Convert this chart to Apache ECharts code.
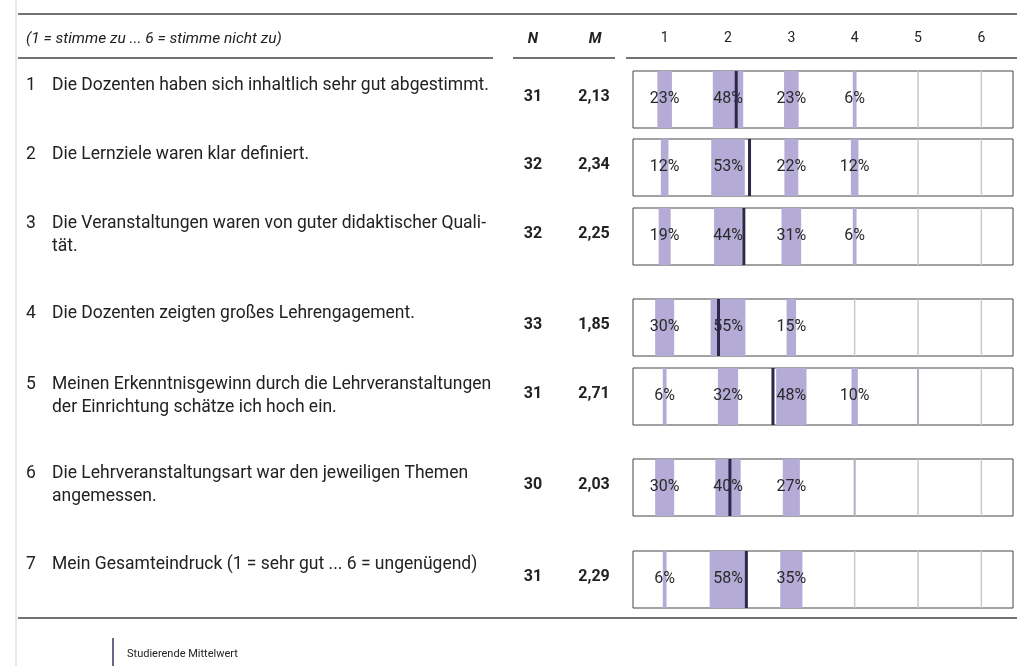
<!DOCTYPE html>
<html><head><meta charset="utf-8">
<script src="https://cdn.jsdelivr.net/npm/echarts@6/dist/echarts.min.js"></script>
<style>html,body{margin:0;padding:0;background:#fff}#c{width:1017px;height:666px}</style>
</head><body><div id="c"></div>
<script>
// ---- data ----
const categories = [1, 2, 3, 4, 5, 6];
const headerLabels = ['1', '2', '3', '4', '5', '6'];
const scaleNote = '(1 = stimme zu ... 6 = stimme nicht zu)';
const itemNumbers = ['1', '2', '3', '4', '5', '6', '7'];
const itemTexts = [
  'Die Dozenten haben sich inhaltlich sehr gut abgestimmt.',
  'Die Lernziele waren klar definiert.',
  'Die Veranstaltungen waren von guter didaktischer Quali-\ntät.',
  'Die Dozenten zeigten großes Lehrengagement.',
  'Meinen Erkenntnisgewinn durch die Lehrveranstaltungen\nder Einrichtung schätze ich hoch ein.',
  'Die Lehrveranstaltungsart war den jeweiligen Themen\nangemessen.',
  'Mein Gesamteindruck (1 = sehr gut ... 6 = ungenügend)'
];
const nValues = [31, 32, 32, 33, 31, 30, 31];
const means = [2.13, 2.34, 2.25, 1.85, 2.71, 2.03, 2.29];
const distribution = [
  [23, 48, 23, 6, 0, 0],
  [12, 53, 22, 12, 0, 0],
  [19, 44, 31, 6, 0, 0],
  [30, 55, 15, 0, 0, 0],
  [6, 32, 48, 10, 3, 0],
  [30, 40, 27, 3, 0, 0],
  [6, 58, 35, 0, 0, 0]
];
const legendLabel = 'Studierende Mittelwert';

// ---- layout ----
const boxLeft = 633, boxWidth = 380, boxHeight = 57;
const rowTops = [71, 139, 208, 299, 368, 459, 551];
const firstLineCenters = [85.5, 155, 224, 314, 385, 474, 565];
const LINE_H = 23;
const FONT = 'Roboto, "Liberation Sans", Arial, sans-serif';
const barColor = '#b5abd7';
const meanColor = '#2b2849';

const grids = [{ left: boxLeft, width: boxWidth, top: 20, height: 10, show: false }];
const xAxes = [{
  type: 'category', gridIndex: 0, data: headerLabels, position: 'bottom',
  axisLine: { show: false }, axisTick: { show: false }, splitLine: { show: false },
  axisLabel: { margin: 1, fontSize: 14, color: '#222', fontFamily: FONT }
}];
const yAxes = [{ type: 'value', gridIndex: 0, show: false }];
const series = [];
const graphics = [];

rowTops.forEach((top, i) => {
  const g = i + 1;
  grids.push({ left: boxLeft, width: boxWidth, top: top, height: boxHeight, show: true,
    borderColor: '#444', borderWidth: 1, backgroundColor: '#fff' });
  xAxes.push({ type: 'value', gridIndex: g, min: 0.5, max: 6.5, show: false });
  yAxes.push({ type: 'value', gridIndex: g, min: 0, max: 1, show: false });
  series.push({
    type: 'custom', xAxisIndex: g, yAxisIndex: g, z: 2,
    data: categories.map((c, k) => [c, distribution[i][k]]),
    renderItem: function (params, api) {
      const c = api.value(0), p = api.value(1);
      const bottom = api.coord([c, 0]);
      const topP = api.coord([c, 1]);
      const unit = api.size([1, 0])[0];
      const w = p / 100 * unit;
      const children = [
        { type: 'line', shape: { x1: bottom[0], y1: topP[1], x2: bottom[0], y2: bottom[1] },
          style: { stroke: '#c9c9c9', lineWidth: 1.5 } }
      ];
      if (p > 0) {
        children.push({ type: 'rect', shape: { x: bottom[0] - w / 2, y: topP[1], width: w, height: bottom[1] - topP[1] },
          style: { fill: p < 5 ? '#b3afc2' : barColor } });
      }
      if (p >= 5) {
        children.push({ type: 'text', x: bottom[0], y: (topP[1] + bottom[1]) / 2 - 1,
          style: { text: p + '%', font: '16px ' + FONT, fill: '#2a2a2a', align: 'center', verticalAlign: 'middle' } });
      }
      return { type: 'group', children: children };
    }
  });
  series.push({
    type: 'custom', xAxisIndex: g, yAxisIndex: g, z: 5,
    data: [[means[i]]],
    renderItem: function (params, api) {
      const m = api.value(0);
      const b = api.coord([m, 0]);
      const t = api.coord([m, 1]);
      return { type: 'line', shape: { x1: b[0], y1: t[1], x2: b[0], y2: b[1] },
        style: { stroke: meanColor, lineWidth: 3 } };
    }
  });
  const tTop = firstLineCenters[i] - LINE_H / 2;
  graphics.push({ type: 'text', x: 26, y: tTop,
    style: { text: itemNumbers[i], font: '17.5px ' + FONT, fill: '#222', lineHeight: LINE_H, verticalAlign: 'top' } });
  graphics.push({ type: 'text', x: 52, y: tTop,
    style: { text: itemTexts[i], font: '17.5px ' + FONT, fill: '#222', lineHeight: LINE_H, verticalAlign: 'top' } });
  const mid = top + boxHeight / 2 - 2.5;
  graphics.push({ type: 'text', x: 533, y: mid,
    style: { text: String(nValues[i]), font: 'bold 16px ' + FONT, fill: '#222', align: 'center', verticalAlign: 'middle' } });
  graphics.push({ type: 'text', x: 594, y: mid,
    style: { text: means[i].toFixed(2).replace('.', ','), font: 'bold 16px ' + FONT, fill: '#222', align: 'center', verticalAlign: 'middle' } });
});

// header / rules
graphics.push({ type: 'line', shape: { x1: 16, y1: 0, x2: 16, y2: 666 }, style: { stroke: '#cfcfcf', lineWidth: 1 } });
graphics.push({ type: 'line', shape: { x1: 18, y1: 14, x2: 1017, y2: 14 }, style: { stroke: '#444', lineWidth: 1.5 } });
graphics.push({ type: 'line', shape: { x1: 18, y1: 58, x2: 493, y2: 58 }, style: { stroke: '#444', lineWidth: 1.5 } });
graphics.push({ type: 'line', shape: { x1: 513, y1: 58, x2: 615, y2: 58 }, style: { stroke: '#444', lineWidth: 1.5 } });
graphics.push({ type: 'line', shape: { x1: 626, y1: 58, x2: 1017, y2: 58 }, style: { stroke: '#444', lineWidth: 1.5 } });
graphics.push({ type: 'line', shape: { x1: 18, y1: 618, x2: 1017, y2: 618 }, style: { stroke: '#444', lineWidth: 1.5 } });
graphics.push({ type: 'text', x: 26, y: 39,
  style: { text: scaleNote, font: 'italic 15.5px ' + FONT, fill: '#222', verticalAlign: 'middle' } });
graphics.push({ type: 'text', x: 533, y: 39,
  style: { text: 'N', font: 'italic bold 15px ' + FONT, fill: '#222', align: 'center', verticalAlign: 'middle' } });
graphics.push({ type: 'text', x: 595, y: 39,
  style: { text: 'M', font: 'italic bold 15px ' + FONT, fill: '#222', align: 'center', verticalAlign: 'middle' } });
// legend
graphics.push({ type: 'line', shape: { x1: 113, y1: 638, x2: 113, y2: 666 }, style: { stroke: '#3a3562', lineWidth: 1.5 } });
graphics.push({ type: 'text', x: 127, y: 654,
  style: { text: legendLabel, font: '11px ' + FONT, fill: '#222', verticalAlign: 'middle' } });

const chart = echarts.init(document.getElementById('c'), null, { renderer: 'canvas' });
chart.setOption({
  animation: false,
  backgroundColor: '#fff',
  grid: grids, xAxis: xAxes, yAxis: yAxes, series: series,
  graphic: { elements: graphics }
});
</script></body></html>
